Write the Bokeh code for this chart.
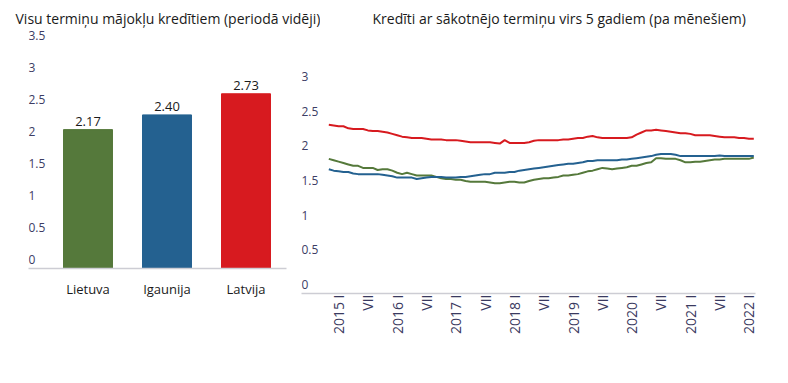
import numpy as np
import pandas as pd
from bokeh.plotting import figure
from bokeh.layouts import row
from bokeh.models import Range1d, FixedTicker, ColumnDataSource
from bokeh.core.properties import value
from bokeh.embed import file_html
from bokeh.resources import INLINE

# ---------------- data ----------------
countries = ["Lietuva", "Igaunija", "Latvija"]
avg_all_terms = [2.17, 2.40, 2.73]
country_colors = ["#55793b", "#246190", "#d71a1f"]
left_ticks = [0, 0.5, 1, 1.5, 2, 2.5, 3, 3.5]
right_ticks = [0, 0.5, 1, 1.5, 2, 2.5, 3]
roman = {1: "I", 7: "VII"}
first_month = "2014-11"

latvija = [2.43, 2.42, 2.41, 2.41, 2.38, 2.37, 2.37, 2.37, 2.35, 2.34, 2.34, 2.33, 2.32, 2.30, 2.28, 2.26, 2.25, 2.24, 2.24, 2.24, 2.23, 2.22,
           2.22, 2.22, 2.21, 2.21, 2.21, 2.20, 2.19, 2.18, 2.18, 2.18, 2.18, 2.18, 2.17, 2.16, 2.21, 2.17, 2.17, 2.17, 2.17, 2.18, 2.20, 2.21,
           2.21, 2.21, 2.21, 2.21, 2.22, 2.22, 2.23, 2.24, 2.24, 2.26, 2.27, 2.25, 2.24, 2.24, 2.24, 2.24, 2.24, 2.24, 2.25, 2.29, 2.32, 2.35,
           2.35, 2.36, 2.35, 2.34, 2.33, 2.32, 2.31, 2.31, 2.30, 2.28, 2.28, 2.28, 2.28, 2.27, 2.26, 2.25, 2.25, 2.25, 2.24, 2.24, 2.23, 2.23]
igaunija = [1.79, 1.77, 1.76, 1.75, 1.75, 1.73, 1.72, 1.72, 1.72, 1.72, 1.72, 1.71, 1.70, 1.69, 1.67, 1.67, 1.67, 1.67, 1.65, 1.66, 1.67, 1.68,
            1.68, 1.68, 1.67, 1.67, 1.67, 1.68, 1.68, 1.69, 1.70, 1.71, 1.72, 1.72, 1.74, 1.74, 1.74, 1.75, 1.75, 1.77, 1.78, 1.79, 1.80, 1.81,
            1.82, 1.83, 1.84, 1.85, 1.86, 1.87, 1.87, 1.88, 1.89, 1.91, 1.91, 1.92, 1.92, 1.92, 1.92, 1.92, 1.93, 1.93, 1.94, 1.95, 1.96, 1.97,
            1.98, 2.00, 2.01, 2.01, 2.01, 2.00, 1.98, 1.98, 1.98, 1.98, 1.98, 1.98, 1.98, 1.98, 1.99, 1.98, 1.98, 1.98, 1.98, 1.98, 1.98, 1.98]
lietuva = [1.94, 1.92, 1.90, 1.88, 1.86, 1.84, 1.84, 1.81, 1.81, 1.81, 1.78, 1.79, 1.79, 1.77, 1.74, 1.72, 1.74, 1.72, 1.70, 1.70, 1.70, 1.70,
           1.68, 1.66, 1.65, 1.65, 1.64, 1.64, 1.62, 1.61, 1.61, 1.61, 1.61, 1.60, 1.59, 1.59, 1.60, 1.61, 1.61, 1.60, 1.60, 1.62, 1.64, 1.65,
           1.66, 1.66, 1.67, 1.68, 1.70, 1.70, 1.71, 1.72, 1.74, 1.76, 1.77, 1.79, 1.81, 1.80, 1.79, 1.80, 1.81, 1.82, 1.84, 1.84, 1.86, 1.88,
           1.89, 1.95, 1.95, 1.94, 1.94, 1.94, 1.92, 1.89, 1.89, 1.90, 1.90, 1.91, 1.92, 1.93, 1.93, 1.94, 1.94, 1.94, 1.94, 1.94, 1.94, 1.96]

FONT = "Open Sans"
TICK_COLOR = "#3d3d64"
AXIS_LINE = "#cdcdd4"
H = 345
TOP = 27          # frame top (px)
LEFT_BASE = 268   # frame bottom / zero line of the bar panel
RIGHT_BASE = 293  # frame bottom / zero line of the line panel
PPU_L = 64.0      # px per unit, bar panel
PPU_R = 69.4      # px per unit, line panel
TICK_LIFT = 9     # px between a tick value and the centre of its label
BAR_LIFT = 8      # px between a bar top and the centre of its value label


def style_common(p):
    p.grid.visible = False
    p.outline_line_color = None
    p.yaxis.visible = False
    p.frame_align = False
    p.title.text_font = FONT
    p.title.text_font_style = "normal"
    p.title.text_font_size = "14px"
    p.title.text_color = "#1a1a1a"
    p.title.align = "left"
    p.title.standoff = 0
    ax = p.xaxis[0]
    ax.axis_line_color = AXIS_LINE
    ax.axis_line_width = 1.5
    ax.major_tick_line_color = None
    ax.minor_tick_line_color = None
    ax.major_tick_out = 0
    ax.major_tick_in = 0
    ax.major_label_text_font = FONT


# ---------------- left: bar chart ----------------
xs = list(range(1, len(countries) + 1))
W1 = 320
p1 = figure(width=W1, height=H, output_backend="svg", toolbar_location=None,
            x_range=Range1d(1 - 59.5 / 79, 3 + 40.5 / 79),
            y_range=Range1d(0, (LEFT_BASE - TOP) / PPU_L),
            min_border_left=28, min_border_right=W1 - 286, min_border_top=TOP, min_border_bottom=H - LEFT_BASE,
            title="Visu termiņu mājokļu kredītiem (periodā vidēji)")
style_common(p1)
p1.title.offset = -13

src = ColumnDataSource(dict(x=xs, top=[v + BAR_LIFT / PPU_L for v in avg_all_terms],
                            lab=[f"{v:.2f}" for v in avg_all_terms]))
p1.vbar(x=xs, top=avg_all_terms, width=0.62, color=country_colors)
p1.text(x="x", y="top", text="lab", source=src, text_align="center", text_baseline="middle",
        text_font=value(FONT), text_font_size="13px", text_color="#1a1a1a")
p1.text(x=[p1.x_range.start] * len(left_ticks), y=[t + TICK_LIFT / PPU_L for t in left_ticks],
        text=[f"{t:g}" for t in left_ticks],
        text_align="left", text_baseline="middle", text_font=value(FONT), text_font_size="12px",
        text_color=TICK_COLOR)
p1.xaxis.ticker = FixedTicker(ticks=xs)
p1.xaxis.major_label_overrides = {x: c for x, c in zip(xs, countries)}
p1.xaxis.major_label_text_font_size = "13px"
p1.xaxis.major_label_text_color = "#1a1a1a"
p1.xaxis.major_label_standoff = 11

# ---------------- right: monthly lines ----------------
months = pd.period_range(first_month, periods=len(latvija), freq="M")
idx = list(range(len(months)))
tick_pos = [i for i, m in enumerate(months) if m.month in roman]
tick_lab = {i: (f"{months[i].year} {roman[months[i].month]}" if months[i].month == 1 else roman[months[i].month])
            for i in tick_pos}

PX_M = 4.885  # px per month
p2 = figure(width=480, height=H, output_backend="svg", toolbar_location=None,
            x_range=Range1d(-27.3 / PX_M, len(idx) - 1 + 1.7 / PX_M), y_range=Range1d(0, (RIGHT_BASE - TOP) / PPU_R),
            min_border_left=1, min_border_right=25, min_border_top=TOP, min_border_bottom=H - RIGHT_BASE,
            title="Kredīti ar sākotnējo termiņu virs 5 gadiem (pa mēnešiem)")
style_common(p2)
p2.title.offset = 71
p2.border_fill_alpha = 0
p2.background_fill_alpha = 0
p2.margin = (0, 0, 0, 300 - W1)

for series, col in [(latvija, country_colors[2]), (lietuva, country_colors[0]), (igaunija, country_colors[1])]:
    p2.line(idx, series, line_color=col, line_width=2)

p2.text(x=[p2.x_range.start] * len(right_ticks), y=[t + TICK_LIFT / PPU_R for t in right_ticks],
        text=[f"{t:g}" for t in right_ticks],
        text_align="left", text_baseline="middle", text_font=value(FONT), text_font_size="12px",
        text_color=TICK_COLOR)
p2.xaxis.ticker = FixedTicker(ticks=tick_pos)
p2.xaxis.major_label_overrides = tick_lab
p2.xaxis.major_label_orientation = np.pi / 2
p2.xaxis.major_label_text_font_size = "14px"
p2.xaxis.major_label_text_color = "#3a3a60"
p2.xaxis.major_label_standoff = 1

layout = row(p1, p2)
open("out.html", "w").write(file_html(layout, INLINE))
